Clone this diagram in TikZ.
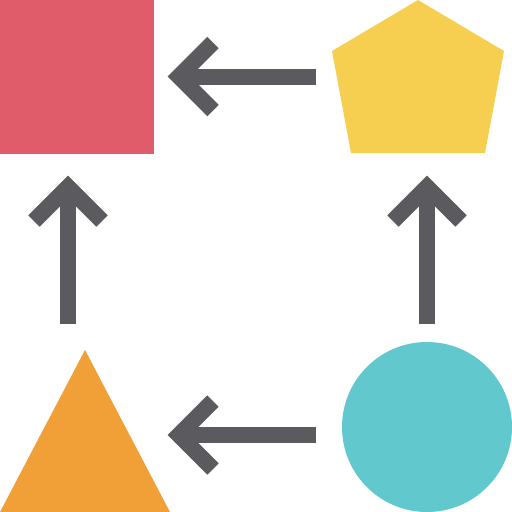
\documentclass[tikz,border=0pt]{standalone}
\definecolor{cred}{HTML}{E05C6B}
\definecolor{cyellow}{HTML}{F6CF51}
\definecolor{corange}{HTML}{F0A037}
\definecolor{cteal}{HTML}{61C8CD}
\definecolor{cgray}{HTML}{5B5A5F}
\begin{document}
\begin{tikzpicture}[x=1pt,y=-1pt,
  shaft/.style={draw=cgray,line width=16pt,line cap=butt},
  chevron/.style={draw=cgray,line width=16pt,line cap=butt,line join=miter}]
\useasboundingbox (0,0) rectangle (512,512);
% shapes
\fill[cred] (0,0) rectangle (154,154);
\fill[cyellow] (418,0) -- (504,51) -- (485,153) -- (351,153) -- (332,51) -- cycle;
\fill[corange] (85,350) -- (170,512) -- (0,512) -- cycle;
\fill[cteal] (427,427) circle[radius=85];
% arrow coordinates
\coordinate (ts) at (316,76.5); \coordinate (te) at (185,76.5);
\coordinate (bs) at (316,435); \coordinate (be) at (185,435);
\coordinate (ls) at (68,324); \coordinate (le) at (68,193);
\coordinate (rs) at (427,324); \coordinate (re) at (427,193);
% top arrow (pentagon -> square)
\draw[shaft] (ts) -- (te);
\draw[chevron] (213,42.5) -- (179,76.5) -- (213,110.5);
% bottom arrow (circle -> triangle)
\draw[shaft] (bs) -- (be);
\draw[chevron] (213,401) -- (179,435) -- (213,469);
% left arrow (triangle -> square)
\draw[shaft] (ls) -- (le);
\draw[chevron] (34,221) -- (68,187) -- (102,221);
% right arrow (circle -> pentagon)
\draw[shaft] (rs) -- (re);
\draw[chevron] (393,221) -- (427,187) -- (461,221);
\end{tikzpicture}
\end{document}
